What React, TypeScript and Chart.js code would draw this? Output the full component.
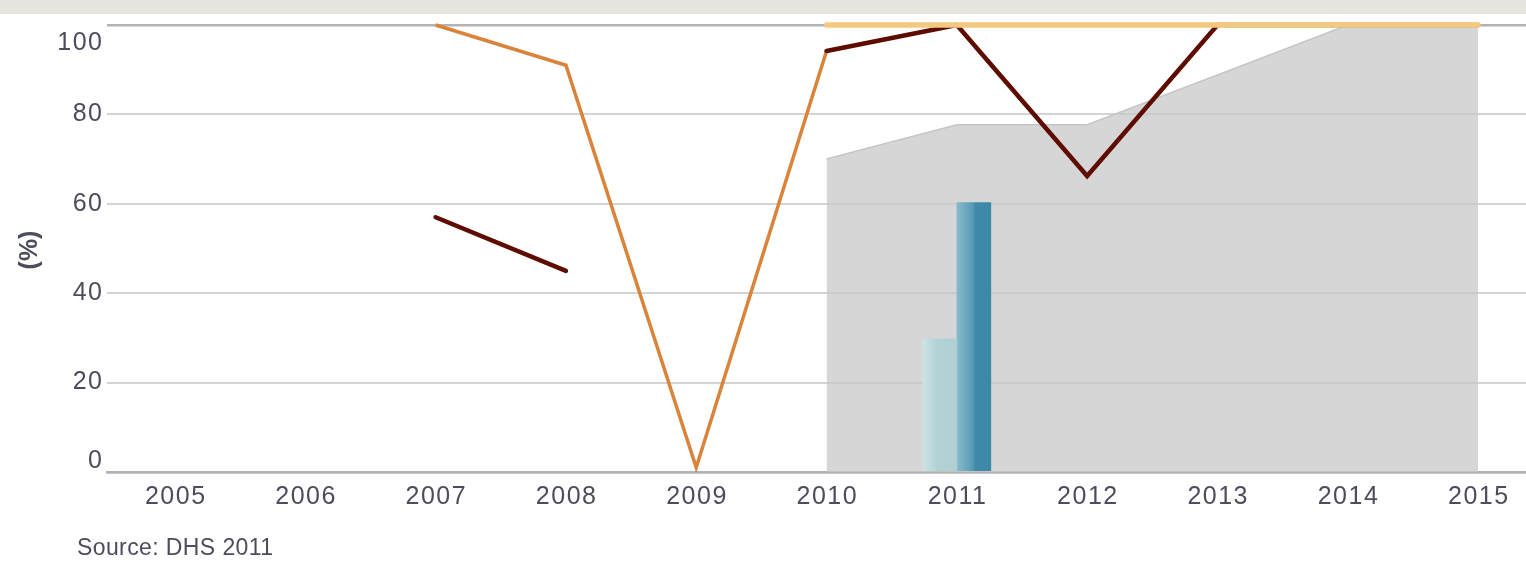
import React, { useEffect, useRef } from 'react';
import { Chart, registerables } from 'chart.js';

Chart.register(...registerables);

// ---- data ----
const years = [2005, 2006, 2007, 2008, 2009, 2010, 2011, 2012, 2013, 2014, 2015];
const orangeSeries = [null, null, 100, 91, 1, 94.2, null, null, null, null, null];
const darkRedSeries = [null, null, 57, 45, null, 94.2, 100, 66.2, 100, 100, 100];
const yellowSeries = [null, null, null, null, null, 100, 100, 100, 100, 100, 100];
const grayAreaSeries = [null, null, null, null, null, 70, 77.7, 77.7, 88.8, 100, 100];
const barYear = 2011;
const barLightValue = 29.8;
const barDarkValue = 60.3;
const yTicks = [0, 20, 40, 60, 80, 100];
const yTitle = '(%)';
const sourceText = 'Source: DHS 2011';

// ---- styles ----
const TEXT = '#4b4d5c';
const BAR_W = 34;
const FONT = '"Liberation Sans", Arial, sans-serif';

const toPoints = (arr: (number | null)[]) => years.map((x, i) => ({ x, y: arr[i] }));

function barGradient(chart: any, side: number, stops: [number, string][]) {
  const xs = chart.scales && chart.scales.x;
  const fallback = stops[stops.length - 1][1];
  if (!xs || !chart.chartArea) return fallback;
  const c = xs.getPixelForValue(barYear);
  if (!isFinite(c)) return fallback;
  const x0 = side < 0 ? c - BAR_W : c;
  const g = chart.ctx.createLinearGradient(x0, 0, x0 + BAR_W, 0);
  stops.forEach(([o, col]) => g.addColorStop(o, col));
  return g;
}

const labelsPlugin = {
  id: 'customLabels',
  afterDraw(chart: any) {
    const ctx = chart.ctx;
    const ys = chart.scales.y;
    const xs = chart.scales.x;
    ctx.save();
    ctx.fillStyle = TEXT;
    ctx.font = `25px ${FONT}`;
    (ctx as any).letterSpacing = '1.5px';
    ctx.textAlign = 'right';
    ctx.textBaseline = 'middle';
    yTicks.forEach((v) => {
      let py = ys.getPixelForValue(v);
      if (v === 100) py += 18;
      if (v === 0) py -= 11;
      ctx.fillText(String(v), 103.5, py);
    });
    ctx.textAlign = 'center';
    years.forEach((yr) => {
      const px = xs.getPixelForValue(yr);
      ctx.fillText(String(yr), px + 0.75, 497);
    });
    // y title
    (ctx as any).letterSpacing = '0px';
    ctx.save();
    ctx.translate(30, 250);
    ctx.rotate(-Math.PI / 2);
    ctx.font = `bold 25px ${FONT}`;
    ctx.textAlign = 'center';
    ctx.textBaseline = 'middle';
    ctx.fillText(yTitle, 0, 0);
    ctx.restore();
    // source
    ctx.font = `23px ${FONT}`;
    (ctx as any).letterSpacing = '0.4px';
    ctx.textAlign = 'left';
    ctx.textBaseline = 'alphabetic';
    ctx.fillText(sourceText, 77, 555);
    ctx.restore();
  },
};

export default function App() {
  const ref = useRef<HTMLCanvasElement>(null);

  useEffect(() => {
    document.body.style.margin = '0';
    const canvas = ref.current;
    if (!canvas) return;
    const chart = new Chart(canvas, {
      type: 'line',
      data: {
        datasets: [
          {
            type: 'line',
            label: 'yellow',
            data: toPoints(yellowSeries) as any,
            borderColor: '#f3c97f',
            borderWidth: 5.5,
            borderCapStyle: 'round',
            pointRadius: 0,
            fill: false,
            spanGaps: false,
            clip: false as any,
            order: 0,
          },
          {
            type: 'line',
            label: 'darkred',
            data: toPoints(darkRedSeries) as any,
            borderColor: '#5e0c00',
            borderWidth: 4.5,
            borderCapStyle: 'round',
            borderJoinStyle: 'miter',
            pointRadius: 0,
            fill: false,
            spanGaps: false,
            clip: false as any,
            order: 1,
          },
          {
            type: 'line',
            label: 'orange',
            data: toPoints(orangeSeries) as any,
            borderColor: '#d9843a',
            borderWidth: 3.5,
            borderCapStyle: 'butt',
            borderJoinStyle: 'miter',
            pointRadius: 0,
            fill: false,
            spanGaps: false,
            clip: false as any,
            order: 2,
          },
          {
            type: 'bar',
            label: 'barLight',
            data: [{ x: barYear, y: barLightValue }] as any,
            barThickness: BAR_W,
            borderWidth: 0,
            backgroundColor: (c: any) =>
              barGradient(c.chart, -1, [
                [0, '#cde3e4'],
                [0.4, '#b3d2d6'],
                [1, '#afcfd3'],
              ]),
            order: 3,
          } as any,
          {
            type: 'bar',
            label: 'barDark',
            data: [{ x: barYear, y: barDarkValue }] as any,
            barThickness: BAR_W,
            borderWidth: 0,
            backgroundColor: (c: any) =>
              barGradient(c.chart, 1, [
                [0, '#88bacd'],
                [0.45, '#5a9bb5'],
                [0.55, '#3f8aa8'],
                [1, '#3c88a7'],
              ]),
            order: 3,
          } as any,
          {
            type: 'line',
            label: 'area',
            data: toPoints(grayAreaSeries) as any,
            borderColor: '#c6c6c6',
            borderWidth: 1.5,
            backgroundColor: 'rgba(200,200,200,0.745)',
            fill: 'origin',
            pointRadius: 0,
            tension: 0,
            spanGaps: false,
            clip: false as any,
            order: 4,
          },
        ],
      },
      options: {
        responsive: false,
        animation: false,
        layout: { padding: { left: 107, top: 25, right: 0, bottom: 96 } },
        plugins: {
          legend: { display: false },
          tooltip: { enabled: false },
          title: { display: false },
        },
        scales: {
          x: {
            type: 'linear',
            min: 2004.478,
            max: 2015.368,
            offset: false,
            grid: { display: false, drawTicks: false, offset: false },
            border: { display: true, color: '#b3b3b3', width: 2.5 },
            ticks: { display: false, stepSize: 1 },
            afterFit: (s: any) => {
              s.height = 0;
            },
          },
          y: {
            type: 'linear',
            min: 0,
            max: 100,
            grid: {
              drawTicks: false,
              color: (c: any) => (c.tick && (c.tick.value === 100 || c.tick.value === 0) ? '#b3b3b3' : '#d4d4d4'),
              lineWidth: (c: any) => (c.tick && (c.tick.value === 100 || c.tick.value === 0) ? 2.5 : 2),
            },
            border: { display: false },
            ticks: { display: false, stepSize: 20 },
            afterFit: (s: any) => {
              s.width = 0;
            },
          },
        },
      } as any,
      plugins: [labelsPlugin],
    });
    return () => chart.destroy();
  }, []);

  return (
    <div style={{ position: 'absolute', left: 0, top: 0, width: 1526, height: 568, background: '#fff' }}>
      <div style={{ position: 'absolute', left: 0, top: 0, width: 1526, height: 14, background: '#e5e4df' }} />
      <canvas ref={ref} width={1526} height={568} style={{ position: 'absolute', left: 0, top: 0, width: 1526, height: 568 }} />
    </div>
  );
}
